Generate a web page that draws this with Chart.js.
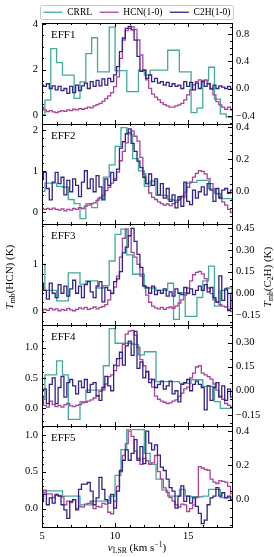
<!DOCTYPE html>
<html>
<head>
<meta charset="utf-8">
<script src="https://cdn.jsdelivr.net/npm/chart.js@4.4.1/dist/chart.umd.min.js"></script>
<style>
  html, body { margin: 0; padding: 0; background: #fff; }
  #fig { position: relative; width: 274px; height: 557px; overflow: hidden; background: #fff; }
  #fig canvas { position: absolute; left: 0; }
</style>
</head>
<body>
<div id="fig"></div>
<script>
/* ================= DATA ================= */
const seriesNames = ["CRRL", "HCN(1-0)", "C2H(1-0)"];
const panelNames = ["EFF1", "EFF2", "EFF3", "EFF4", "EFF5"];

// channel velocities (km/s)
const velMol = [
  5.0, 5.2, 5.4, 5.6, 5.8, 6.0, 6.2, 6.4, 6.6, 6.8,
  7.0, 7.2, 7.4, 7.6, 7.8, 8.0, 8.2, 8.4, 8.6, 8.8,
  9.0, 9.2, 9.4, 9.6, 9.8, 10.0, 10.2, 10.4, 10.6, 10.8,
  11.0, 11.2, 11.4, 11.6, 11.8, 12.0, 12.2, 12.4, 12.6, 12.8,
  13.0, 13.2, 13.4, 13.6, 13.8, 14.0, 14.2, 14.4, 14.6, 14.8,
  15.0, 15.2, 15.4, 15.6, 15.8, 16.0, 16.2, 16.4, 16.6, 16.8,
  17.0, 17.2, 17.4, 17.6, 17.8, 18.0
];
const velCrrl = [
  5.0, 5.4, 5.8, 6.2, 6.6, 7.0, 7.4, 7.8, 8.2, 8.6,
  9.0, 9.4, 9.8, 10.2, 10.6, 11.0, 11.4, 11.8, 12.2, 12.6,
  13.0, 13.4, 13.8, 14.2, 14.6, 15.0, 15.4, 15.8, 16.2, 16.6,
  17.0, 17.4, 17.8, 18.2
];

/* CRRL (drawn on the HCN scale) */
const crrlEFF1 = [0.0, 0.65, 2.92, 2.3, 1.75, 1.75, 0.73, 1.46, 2.7, 3.4, 1.9, 1.9, 3.87, 1.95, 1.95, 1.03, 1.03, 1.97, 1.76, 1.97, 1.97, 1.97, 2.85, 2.85, 1.9, 1.9, 0.1, 0.3, 1.5, 2.1, 0.7, 0.05, -0.1, -0.2];
const crrlEFF2 = [0.5, 0.7, 0.7, 0.62, 0.6, 0.3, 0.2, -0.17, 0.2, 0.1, 0.32, 0.85, 1.15, 1.6, 2.06, 1.9, 1.3, 1.0, 0.62, 0.75, 0.4, 0.4, 0.3, 0.28, 0.35, 0.7, 0.72, 0.77, 0.77, 0.56, 0.45, 0.32, 0.32, 0.3];
const crrlEFF3 = [1.0, 0.45, 0.45, 0.23, 0.23, 0.82, 0.82, 0.58, 0.65, 0.65, 0.5, 0.55, 1.07, 1.63, 1.74, 1.2, 0.79, 0.79, 0.5, 0.5, 0.45, 0.45, 0.6, -0.16, 0.4, -0.1, -0.1, 0.3, 0.65, 0.96, 0.12, 0.45, 0.5, 0.1];
const crrlEFF4 = [0.15, 0.55, 0.55, 0.78, 0.55, -0.18, -0.18, 0.11, 0.3, 0.3, 0.3, 0.7, 1.31, 1.07, 1.07, 1.07, 1.05, 0.88, 0.93, 0.93, 0.44, 0.44, 0.44, 0.44, 0.41, 0.41, 0.47, 0.47, 0.36, 0.36, 0.11, 0.0, 0.0, 0.0];
const crrlEFF5 = [0.2, 0.24, 0.24, 0.24, 0.17, 0.17, 0.17, 0.05, 0.05, 0.1, 0.1, 0.1, 0.17, 0.45, 0.8, 1.07, 1.07, 1.07, 0.75, 0.6, 0.4, 0.25, 0.17, 0.17, 0.26, 0.17, 0.16, 0.16, 0.17, 0.26, 0.26, 0.15, 0.15, 0.15];

/* HCN(1-0), K */
const hcnEFF1 = [
  0.34, 0.22, 0.15, 0.19, 0.13, 0.10, 0.15, 0.19, 0.16, 0.22,
  0.19, 0.25, 0.22, 0.28, 0.25, 0.29, 0.34, 0.31, 0.40, 0.45,
  0.51, 0.60, 0.72, 0.84, 0.98, 1.25, 1.68, 2.49, 3.30, 3.71,
  3.81, 3.88, 3.77, 3.30, 2.64, 1.98, 1.54, 1.17, 0.92, 0.78,
  0.66, 0.54, 0.45, 0.40, 0.34, 0.34, 0.40, 0.44, 0.51, 0.66,
  0.88, 1.10, 1.32, 1.47, 1.54, 1.51, 1.54, 1.39, 1.17, 0.88,
  0.59, 0.44, 0.34, 0.25, 0.34, 0.22
];
const hcnEFF2 = [
  0.08, 0.06, 0.08, 0.06, 0.09, 0.06, 0.04, 0.07, 0.02, 0.06,
  0.04, 0.08, 0.06, 0.10, 0.08, 0.14, 0.16, 0.20, 0.22, 0.28,
  0.35, 0.40, 0.52, 0.60, 0.70, 0.81, 0.97, 1.25, 1.48, 1.69,
  1.94, 1.98, 1.85, 1.73, 1.33, 0.93, 0.69, 0.46, 0.35, 0.30,
  0.24, 0.20, 0.16, 0.19, 0.15, 0.20, 0.23, 0.30, 0.38, 0.48,
  0.60, 0.73, 0.85, 0.94, 1.01, 0.99, 0.93, 0.81, 0.69, 0.56,
  0.44, 0.35, 0.24, 0.16, 0.06, -0.02
];
const hcnEFF3 = [
  0.02, 0.05, 0.03, 0.07, 0.04, 0.06, 0.02, 0.05, 0.03, 0.07,
  0.04, 0.02, 0.05, 0.08, 0.06, 0.09, 0.05, 0.07, 0.10, 0.06,
  0.09, 0.11, 0.15, 0.25, 0.38, 0.52, 0.75, 1.15, 1.55, 1.74,
  1.60, 1.25, 1.15, 1.00, 0.75, 0.55, 0.35, 0.20, 0.12, 0.08,
  0.06, 0.09, 0.05, 0.08, 0.10, 0.07, 0.12, 0.18, 0.25, 0.35,
  0.50, 0.65, 0.78, 0.83, 0.85, 0.80, 0.70, 0.50, 0.38, 0.25,
  0.20, 0.15, 0.12, 0.10, 0.05, 0.00
];
const hcnEFF4 = [
  0.20, 0.05, 0.02, 0.12, 0.06, 0.03, 0.05, 0.02, 0.06, 0.08,
  0.04, 0.03, 0.05, 0.06, 0.09, 0.10, 0.12, 0.14, 0.17, 0.20,
  0.28, 0.30, 0.40, 0.52, 0.55, 0.62, 0.70, 0.82, 1.05, 1.22,
  1.27, 1.28, 1.20, 1.00, 0.80, 0.70, 0.60, 0.48, 0.35, 0.20,
  0.15, 0.12, 0.10, 0.08, 0.09, 0.12, 0.14, 0.20, 0.25, 0.32,
  0.35, 0.50, 0.58, 0.68, 0.70, 0.58, 0.55, 0.52, 0.48, 0.40,
  0.30, 0.20, 0.15, 0.08, 0.05, 0.02
];
const hcnEFF5 = [
  0.22, 0.25, 0.20, 0.20, 0.15, 0.18, 0.18, 0.16, 0.05, 0.10,
  0.08, 0.12, 0.00, 0.03, 0.02, 0.06, 0.07, 0.10, 0.00, 0.03,
  0.02, 0.07, 0.06, -0.05, -0.07, 0.10, 0.30, 0.50, 0.72, 0.88,
  1.05, 0.98, 0.78, 0.68, 0.60, 0.68, 0.65, 0.60, 0.62, 0.72,
  0.50, 0.40, 0.28, 0.22, 0.15, 0.10, 0.05, 0.02, 0.06, 0.05,
  -0.04, 0.00, 0.05, 0.15, 0.57, 0.55, 0.53, 0.52, 0.40, 0.36,
  0.34, 0.38, 0.37, 0.36, 0.30, 0.20
];

/* C2H(1-0), K */
const c2hEFF1 = [
  0.05, 0.03, 0.07, 0.00, 0.04, -0.02, 0.03, -0.03, 0.00, -0.07,
  0.03, -0.06, 0.05, -0.03, 0.04, 0.08, 0.00, 0.10, 0.03, 0.12,
  0.04, 0.14, 0.05, 0.15, 0.10, 0.20, 0.32, 0.54, 0.74, 0.88,
  0.91, 0.86, 0.71, 0.47, 0.25, 0.27, 0.15, 0.20, 0.10, 0.15,
  0.08, 0.10, 0.05, 0.09, 0.03, 0.07, 0.03, 0.05, 0.00, 0.10,
  0.03, 0.09, -0.02, 0.08, 0.00, 0.10, 0.03, 0.07, -0.01, 0.05,
  0.00, 0.04, 0.02, 0.00, 0.03, -0.01
];
const c2hEFF2 = [
  0.08, 0.12, 0.02, -0.05, 0.06, 0.12, 0.05, 0.09, -0.02, 0.07,
  0.00, 0.08, 0.04, -0.03, 0.06, 0.13, 0.02, 0.08, 0.00, 0.10,
  0.03, -0.05, 0.08, 0.04, 0.12, 0.07, 0.14, 0.27, 0.31, 0.36,
  0.39, 0.30, 0.25, 0.19, 0.15, 0.09, 0.05, 0.11, 0.04, 0.08,
  -0.02, 0.05, -0.04, 0.02, -0.06, -0.02, -0.10, -0.03, -0.09, 0.06,
  -0.06, -0.08, 0.01, -0.04, 0.00, 0.03, -0.02, 0.05, 0.01, -0.06,
  0.02, -0.04, 0.01, 0.02, -0.01, 0.01
];
const c2hEFF3 = [
  0.07, 0.02, -0.04, 0.07, 0.00, -0.03, 0.06, 0.00, 0.05, -0.02,
  0.03, 0.09, 0.00, 0.05, -0.03, 0.06, 0.08, 0.01, -0.03, 0.05,
  0.08, -0.06, 0.04, 0.02, 0.00, 0.08, 0.10, 0.15, 0.28, 0.32,
  0.40, 0.45, 0.36, 0.27, 0.18, 0.05, 0.04, 0.00, 0.05, -0.01,
  0.02, 0.00, 0.03, -0.02, 0.01, -0.02, 0.03, 0.00, -0.01, 0.04,
  0.00, 0.03, -0.01, 0.02, 0.05, 0.02, 0.06, 0.01, 0.04, -0.03,
  -0.06, 0.12, -0.05, 0.03, -0.12, 0.00
];
const c2hEFF4 = [
  0.00, 0.01, -0.08, 0.04, 0.08, -0.08, 0.02, 0.09, -0.04, 0.05,
  0.07, 0.03, -0.02, 0.06, 0.02, 0.07, -0.01, 0.04, 0.05, -0.03,
  -0.06, 0.02, 0.09, 0.03, 0.00, 0.16, 0.20, 0.24, 0.16, 0.28,
  0.31, 0.22, 0.37, 0.14, 0.18, 0.08, 0.12, 0.05, 0.07, 0.02,
  0.04, 0.06, 0.01, 0.03, 0.06, -0.02, 0.00, -0.07, 0.04, 0.05,
  0.07, 0.00, 0.04, 0.06, 0.04, 0.02, -0.12, 0.03, -0.06, 0.02,
  0.05, -0.04, 0.03, -0.06, 0.01, -0.04
];
const c2hEFF5 = [
  -0.01, 0.03, -0.03, 0.01, -0.02, 0.03, 0.02, -0.03, -0.06, -0.11,
  -0.01, 0.00, -0.06, 0.06, 0.09, 0.09, 0.10, 0.05, -0.03, 0.01,
  0.13, 0.06, 0.00, -0.02, 0.03, -0.05, 0.05, 0.17, 0.23, 0.29,
  0.23, 0.27, 0.35, 0.23, 0.31, 0.21, 0.40, 0.33, 0.29, 0.32,
  0.26, 0.19, 0.17, 0.12, 0.07, 0.05, -0.05, 0.02, 0.08, -0.01,
  0.02, -0.02, 0.01, -0.04, -0.08, -0.14, -0.12, -0.03, 0.01, 0.02,
  0.07, 0.02, 0.04, 0.01, 0.02, 0.00
];

const crrlAll = [crrlEFF1, crrlEFF2, crrlEFF3, crrlEFF4, crrlEFF5];
const hcnAll = [hcnEFF1, hcnEFF2, hcnEFF3, hcnEFF4, hcnEFF5];
const c2hAll = [c2hEFF1, c2hEFF2, c2hEFF3, c2hEFF4, c2hEFF5];

/* axis limits and ticks */
const velMin = 5, velMax = 18;
const velTicks = [5, 10, 15];
const velTickLabels = ["5", "10", "15"];
const velMinor = 1;

const hcnMin = [-0.4, -0.3, -0.28, -0.29, -0.25];
const hcnMax = [4.05, 2.15, 1.85, 1.37, 1.12];
const hcnTicks = [[0, 2, 4], [0, 1, 2], [0, 1], [0, 0.5, 1], [0, 0.5, 1]];
const hcnTickLabels = [["0", "2", "4"], ["0", "1", "2"], ["0", "1"], ["0.0", "0.5", "1.0"], ["0.0", "0.5", "1.0"]];
const hcnMinor = [0.5, 0.2, 0.2, 0.1, 0.1];

const c2hMin = [-0.52, -0.2, -0.22, -0.22, -0.16];
const c2hMax = [0.96, 0.42, 0.48, 0.41, 0.43];
const c2hTicks = [[-0.4, 0, 0.4, 0.8], [0, 0.2, 0.4], [-0.15, 0, 0.15, 0.3, 0.45], [-0.15, 0, 0.15, 0.3], [0, 0.2, 0.4]];
const c2hTickLabels = [
  ["\u22120.4", "0.0", "0.4", "0.8"],
  ["0.0", "0.2", "0.4"],
  ["\u22120.15", "0.00", "0.15", "0.30", "0.45"],
  ["\u22120.15", "0.00", "0.15", "0.30"],
  ["0.0", "0.2", "0.4"]
];
const c2hMinor = [0.1, 0.05, 0.05, 0.05, 0.05];

/* ================= STYLE / LAYOUT ================= */
const FONT = '"Liberation Serif", "DejaVu Serif", serif';
const colors = ["#44AA99", "#AA4499", "#332288"];
const FIG_W = 274, FIG_H = 557;
const panelTop = [23, 124, 224, 325, 426];
const panelBottom = 527;
const PAD = 20;
const AXIS_W = 42;

Chart.defaults.font.family = FONT;
Chart.defaults.color = "#000";

const fig = document.getElementById("fig");

function addCanvas(top, h) {
  const c = document.createElement("canvas");
  c.width = FIG_W;
  c.height = h;
  c.style.top = top + "px";
  c.style.width = FIG_W + "px";
  c.style.height = h + "px";
  fig.appendChild(c);
  return c;
}

function pts(xs, ys) {
  return xs.map((x, i) => ({ x, y: ys[i] }));
}

/* text with sub/superscripts */
function drawRich(ctx, parts, cx, cy, rot, size) {
  ctx.save();
  ctx.translate(cx, cy);
  ctx.rotate(rot);
  const fontOf = p => `${p.it ? "italic " : ""}${p.sub || p.sup ? size * 0.7 : size}px ${FONT}`;
  let w = 0;
  parts.forEach(p => { ctx.font = fontOf(p); p.w = ctx.measureText(p.t).width; w += p.w; });
  let x = -w / 2;
  ctx.textBaseline = "alphabetic";
  ctx.textAlign = "left";
  ctx.fillStyle = "#000";
  const base = size * 0.35;
  parts.forEach(p => {
    ctx.font = fontOf(p);
    const dy = p.sub ? size * 0.22 : p.sup ? -size * 0.38 : 0;
    ctx.fillText(p.t, x, base + dy);
    x += p.w;
  });
  ctx.restore();
}

function yTickMarks(ctx, scale, major, step, x0, dir) {
  const k0 = Math.ceil(scale.min / step - 1e-6);
  const k1 = Math.floor(scale.max / step + 1e-6);
  for (let k = k0; k <= k1; k++) {
    const v = k * step;
    const len = major.some(m => Math.abs(m - v) < 1e-6) ? 4 : 2;
    const py = Math.round(scale.getPixelForValue(v)) + 0.5;
    ctx.moveTo(x0, py);
    ctx.lineTo(x0 + dir * len, py);
  }
}

/* frame, inward ticks, panel names, axis titles */
const panelDeco = {
  id: "panelDeco",
  afterDraw(chart, args, o) {
    const { ctx, chartArea: a } = chart;
    const xs = chart.scales.x, yL = chart.scales.yL, yR = chart.scales.yR;
    const i = o.idx;
    ctx.save();
    ctx.strokeStyle = "#000";
    ctx.lineWidth = 1;
    ctx.strokeRect(a.left + 0.5, a.top + 0.5, a.right - a.left, a.bottom - a.top);

    ctx.beginPath();
    for (let v = Math.ceil(xs.min); v <= xs.max; v += velMinor) {
      const len = velTicks.includes(v) ? 4 : 2;
      const px = Math.round(xs.getPixelForValue(v)) + 0.5;
      ctx.moveTo(px, a.top); ctx.lineTo(px, a.top + len);
      ctx.moveTo(px, a.bottom); ctx.lineTo(px, a.bottom - len);
    }
    yTickMarks(ctx, yL, hcnTicks[i], hcnMinor[i], a.left, 1);
    yTickMarks(ctx, yR, c2hTicks[i], c2hMinor[i], a.right, -1);
    ctx.stroke();

    ctx.fillStyle = "#000";
    ctx.font = `11px ${FONT}`;
    ctx.textBaseline = "alphabetic";
    ctx.textAlign = "left";
    ctx.fillText(panelNames[i], a.left + 9, a.top + 15);
    ctx.restore();

    if (i === 2) {
      const cy = 277 - o.top;
      drawRich(ctx, [{ t: "T", it: 1 }, { t: "mb", sub: 1 }, { t: "(HCN) (K)" }], 9, cy, -Math.PI / 2, 11);
      drawRich(ctx, [{ t: "T", it: 1 }, { t: "mb", sub: 1 }, { t: "(C" }, { t: "2", sub: 1 }, { t: "H) (K)" }], 267, cy, -Math.PI / 2, 11);
    }
    if (i === panelNames.length - 1) {
      drawRich(ctx, [{ t: "v", it: 1 }, { t: "LSR", sub: 1 }, { t: " (km s" }, { t: "\u22121", sup: 1 }, { t: ")" }],
        (a.left + a.right) / 2, 547 - o.top, 0, 11);
    }
  }
};

const tickFont = { family: FONT, size: 10.5 };

function makePanel(i) {
  const last = i === panelNames.length - 1;
  const top = panelTop[i] - PAD;
  const bottom = last ? FIG_H : panelTop[i + 1] + PAD;
  const cv = addCanvas(top, bottom - top);
  const line = (k, xs, ys, axis, order) => ({
    label: seriesNames[k],
    data: pts(xs, ys),
    yAxisID: axis,
    order,
    borderColor: colors[k],
    backgroundColor: colors[k],
    borderWidth: 1.3,
    stepped: "middle",
    pointRadius: 0,
    fill: false
  });
  const noGrid = { display: false, drawTicks: false };
  return new Chart(cv, {
    type: "line",
    data: {
      datasets: [
        line(0, velCrrl, crrlAll[i], "yL", 2),
        line(1, velMol, hcnAll[i], "yL", 1),
        line(2, velMol, c2hAll[i], "yR", 0)
      ]
    },
    options: {
      responsive: false,
      animation: false,
      events: [],
      layout: { padding: { top: PAD, bottom: last ? 0 : PAD, left: 0, right: 0 } },
      scales: {
        x: {
          type: "linear", min: velMin, max: velMax, display: last,
          grid: noGrid, border: { display: false },
          ticks: { font: tickFont, color: "#000", padding: 3, maxRotation: 0, autoSkip: false,
                   callback: (v, k) => velTickLabels[k] },
          afterBuildTicks: s => { s.ticks = velTicks.map(v => ({ value: v })); },
          afterFit: s => {
            if (!last) return;
            s.height = FIG_H - panelBottom; s.paddingLeft = 0; s.paddingRight = 0;
          }
        },
        yL: {
          type: "linear", position: "left", min: hcnMin[i], max: hcnMax[i],
          grid: noGrid, border: { display: false },
          ticks: { font: tickFont, color: "#000", padding: 4, autoSkip: false,
                   callback: (v, k) => hcnTickLabels[i][k] },
          afterBuildTicks: s => { s.ticks = hcnTicks[i].map(v => ({ value: v })); },
          afterFit: s => { s.width = AXIS_W; s.paddingTop = 0; s.paddingBottom = 0; }
        },
        yR: {
          type: "linear", position: "right", min: c2hMin[i], max: c2hMax[i],
          grid: noGrid, border: { display: false },
          ticks: { font: tickFont, color: "#000", padding: 4, autoSkip: false,
                   callback: (v, k) => c2hTickLabels[i][k] },
          afterBuildTicks: s => { s.ticks = c2hTicks[i].map(v => ({ value: v })); },
          afterFit: s => { s.width = AXIS_W; s.paddingTop = 0; s.paddingBottom = 0; }
        }
      },
      plugins: {
        legend: { display: false },
        tooltip: { enabled: false },
        panelDeco: { idx: i, top }
      }
    },
    plugins: [panelDeco]
  });
}

/* ================= LEGEND ================= */
const legendFrame = {
  id: "legendFrame",
  afterDraw(chart) {
    const hb = chart.legend && chart.legend.legendHitBoxes;
    if (!hb || !hb.length) return;
    const left = Math.min(...hb.map(b => b.left)) - 3;
    const right = Math.max(...hb.map(b => b.left + b.width)) + 3;
    const cy = hb[0].top + hb[0].height / 2;
    const { ctx } = chart;
    ctx.save();
    ctx.strokeStyle = "#c8c8c8";
    ctx.lineWidth = 1;
    ctx.beginPath();
    ctx.roundRect(Math.round(left) + 0.5, Math.round(cy - 7) + 0.5, Math.round(right - left), 14, 2);
    ctx.stroke();
    ctx.restore();
  }
};

function makeLegend() {
  const cv = addCanvas(0, 60);
  return new Chart(cv, {
    type: "line",
    data: {
      datasets: seriesNames.map((n, k) => ({
        label: n, data: [], borderColor: colors[k], backgroundColor: colors[k], borderWidth: 1.3
      }))
    },
    options: {
      responsive: false,
      animation: false,
      events: [],
      layout: { padding: 0 },
      scales: { x: { display: false }, y: { display: false } },
      plugins: {
        tooltip: { enabled: false },
        legend: {
          position: "top",
          labels: {
            usePointStyle: true, pointStyle: "line", pointStyleWidth: 19,
            padding: 7.5, color: "#000", font: { family: FONT, size: 9.5 }
          }
        }
      }
    },
    plugins: [legendFrame]
  });
}

/* ================= INIT ================= */
makeLegend();
panelNames.forEach((n, i) => makePanel(i));
</script>
</body>
</html>
